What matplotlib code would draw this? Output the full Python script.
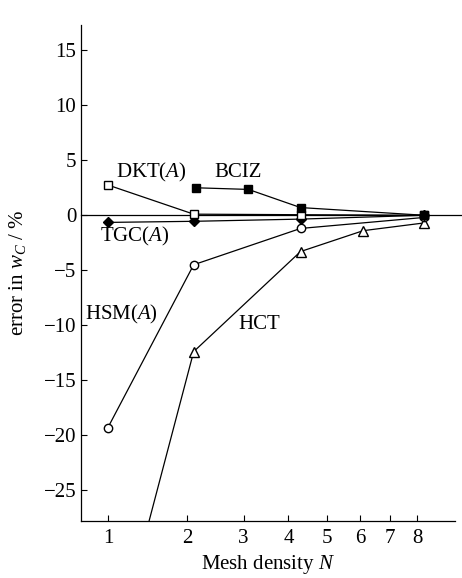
import numpy as np
import matplotlib
matplotlib.use("Agg")
import matplotlib.pyplot as plt

plt.rcParams['font.family'] = ['Liberation Serif', 'DejaVu Serif']
plt.rcParams['mathtext.fontset'] = 'custom'
plt.rcParams['mathtext.rm'] = 'Liberation Serif'
plt.rcParams['mathtext.it'] = 'Liberation Serif:italic'

# Data (mesh density N vs error in w_C, %)
N_dkt = [1, 2.1, 4.3, 8.25]
E_dkt = [2.75, 0.1, 0.05, 0.0]
N_bciz = [2.13, 3.1, 4.3, 8.25]
E_bciz = [2.5, 2.35, 0.7, 0.0]
N_tgc = [1, 2.1, 4.3, 8.25]
E_tgc = [-0.65, -0.55, -0.35, 0.0]
N_hsm = [1, 2.1, 4.3, 8.25]
E_hsm = [-19.3, -4.5, -1.2, -0.2]
N_hct = [1, 2.1, 4.3, 6.1, 8.25]
E_hct = [-42.0, -12.4, -3.3, -1.4, -0.7]
xticks = [1, 2, 3, 4, 5, 6, 7, 8]
yticks = [15, 10, 5, 0, -5, -10, -15, -20, -25]

p = 0.35
fig = plt.figure(figsize=(4.62, 5.78), dpi=100)
ax = fig.add_axes([81/462, 1-521/578, (455-81)/462, (521-25)/578])
ax.set_xscale('function', functions=(lambda x: np.power(np.clip(x, 1e-9, None), p),
                                     lambda u: np.power(np.clip(u, 1e-9, None), 1/p)))
ax.set_xlim(0.756, 9.52)
ax.set_ylim(-27.8, 17.3)

ax.plot([0, 1.03], [0, 0], color='black', lw=0.9, zorder=1,
        transform=ax.get_yaxis_transform(), clip_on=False)

lw = 0.9
ms = 6
ax.plot(N_hct, E_hct, '-', color='black', lw=lw, marker='^', mfc='white', mec='black', ms=ms+1, zorder=3)
ax.plot(N_hsm, E_hsm, '-', color='black', lw=lw, marker='o', mfc='white', mec='black', ms=ms, zorder=3)
ax.plot(N_tgc, E_tgc, '-', color='black', lw=lw, marker='D', mfc='black', mec='black', ms=ms-1, zorder=4)
ax.plot(N_dkt, E_dkt, '-', color='black', lw=lw, marker='s', mfc='white', mec='black', ms=ms, zorder=4)
ax.plot(N_bciz, E_bciz, '-', color='black', lw=lw, marker='s', mfc='black', mec='black', ms=ms, zorder=5)

fs = 15
ax.text(1.08, 3.9, r'DKT($\mathit{A}$)', fontsize=fs, ha='left', va='center')
ax.text(2.44, 3.9, 'BCIZ', fontsize=fs, ha='left', va='center')
ax.text(0.923, -1.9, r'TGC($\mathit{A}$)', fontsize=fs, ha='left', va='center')
ax.text(1.144, -9.0, r'HSM($\mathit{A}$)', fontsize=fs, ha='center', va='center')
ax.text(3.32, -9.9, 'HCT', fontsize=fs, ha='center', va='center')

ax.set_xticks(xticks)
ax.set_xticklabels([str(t) for t in xticks])
ax.set_yticks(yticks)
ax.set_yticklabels([str(t).replace('-', '\u2212') for t in yticks])
ax.xaxis.set_minor_locator(matplotlib.ticker.NullLocator())
ax.tick_params(direction='in', length=4, width=0.8, labelsize=fs)
ax.tick_params(axis='x', pad=6)
ax.spines['top'].set_visible(False)
ax.spines['right'].set_visible(False)
for s in ['left', 'bottom']:
    ax.spines[s].set_linewidth(0.9)

ax.set_xlabel(r'Mesh density $\mathit{N}$', fontsize=fs, labelpad=3)
ax.set_ylabel(r'error in $\mathit{w}_{\mathit{C}}$ / %', fontsize=fs)
ax.yaxis.set_label_coords(-0.142, 0.5)

fig.savefig('out.png', dpi=100)
